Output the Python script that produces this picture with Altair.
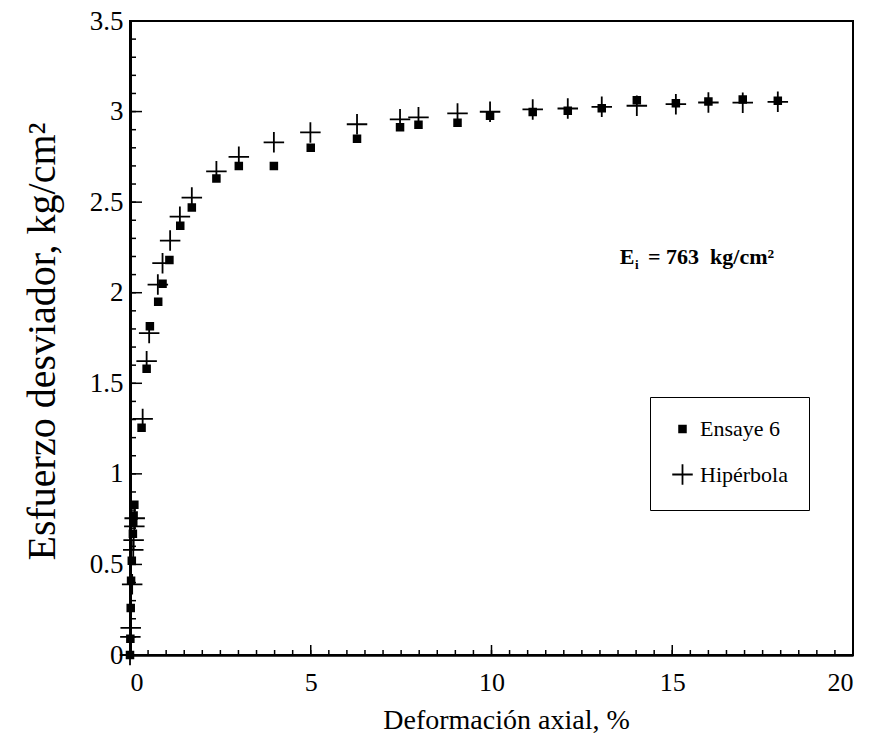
import altair as alt
import pandas as pd

# ---- data ----
ens_x = [0, 0.01, 0.02, 0.03, 0.05, 0.08, 0.09, 0.10, 0.12, 0.32, 0.46, 0.55, 0.78, 0.90,
         1.09, 1.39, 1.71, 2.39, 3.01, 3.98, 5.00, 6.28, 7.47, 7.98, 9.06, 9.96, 11.14,
         12.11, 13.05, 14.02, 15.10, 16.00, 16.95, 17.92]
ens_y = [0, 0.09, 0.26, 0.41, 0.52, 0.67, 0.735, 0.77, 0.83, 1.255, 1.58, 1.815, 1.95, 2.05,
         2.18, 2.37, 2.47, 2.63, 2.70, 2.70, 2.80, 2.85, 2.914, 2.927, 2.938, 2.977, 2.997,
         3.004, 3.019, 3.063, 3.046, 3.056, 3.067, 3.06]

hip_x = [0, 0.01, 0.02, 0.06, 0.09, 0.10, 0.12, 0.13, 0.35, 0.46, 0.53, 0.77, 0.90, 1.11,
         1.38, 1.71, 2.39, 3.01, 3.98, 4.99, 6.28, 7.47, 7.98, 9.06, 9.96, 11.14, 12.11,
         13.05, 14.02, 15.10, 16.00, 16.95, 17.92]
hip_y = [0, 0.10, 0.15, 0.39, 0.58, 0.634, 0.71, 0.755, 1.303, 1.622, 1.777, 2.045, 2.163,
         2.288, 2.42, 2.525, 2.67, 2.75, 2.83, 2.885, 2.93, 2.957, 2.968, 2.99, 2.999, 3.012,
         3.017, 3.026, 3.032, 3.041, 3.05, 3.049, 3.054]

series_names = ["Ensaye 6", "Hipérbola"]

x_ticks_major = [0, 5, 10, 15, 20]
x_ticks_minor = [i * 0.5 for i in range(41)]
y_ticks_major = [0, 0.5, 1, 1.5, 2, 2.5, 3, 3.5]
y_ticks_minor = [round(i * 0.1, 1) for i in range(36)]

x_title = "Deformación axial, %"
y_title = "Esfuerzo desviador, kg/cm²"

ann_e = ["E"]
ann_sub = ["i"]
ann_rest = ["=\u00a0763\u00a0\u00a0kg/cm²"]
ann_x = [13.55, 13.97, 14.33]
ann_y = [2.16, 2.13, 2.16]

# ---- layout ----
W, H = 723, 634
FONT = "Liberation Serif"
CROSS = "M-1,0L1,0M0,-1L0,1"

df = pd.concat([
    pd.DataFrame({"x": ens_x, "y": ens_y, "serie": series_names[0]}),
    pd.DataFrame({"x": hip_x, "y": hip_y, "serie": series_names[1]}),
])

xs = alt.Scale(domain=[0, 20], nice=False, zero=False)
ys = alt.Scale(domain=[0, 3.5], nice=False, zero=False)

xaxis = alt.Axis(
    values=x_ticks_major, format="~g", ticks=False, grid=False,
    domainColor="black", domainWidth=2.5,
    labelFont=FONT, labelFontSize=26, labelColor="black", labelPadding=14,
    title=x_title, titleFont=FONT, titleFontSize=28, titleFontWeight="normal",
    titleColor="black", titleX=376, titleY=73, titleBaseline="alphabetic")
yaxis = alt.Axis(
    values=y_ticks_major, format="~g", ticks=False, grid=False,
    domainColor="black", domainWidth=3,
    labelFont=FONT, labelFontSize=27, labelColor="black", labelPadding=7,
    title=y_title, titleFont=FONT, titleFontSize=40, titleFontWeight="normal",
    titleColor="black", titleX=-88, titleY=320, titleBaseline="middle")

leg = alt.Legend(
    title=None, orient="none", legendX=520, legendY=376,
    strokeColor="black", fillColor="white", padding=21,
    labelFont=FONT, labelFontSize=22, labelColor="black", labelOffset=6,
    rowPadding=20, symbolStrokeWidth=1.8, symbolStrokeColor="black",
)

points = alt.Chart(df).mark_point(filled=True, opacity=1, stroke="black", strokeWidth=1.8).encode(
    x=alt.X("x:Q", scale=xs, axis=xaxis),
    y=alt.Y("y:Q", scale=ys, axis=yaxis),
    shape=alt.Shape("serie:N", scale=alt.Scale(domain=series_names, range=["square", CROSS]), legend=leg),
    size=alt.Size("serie:N", scale=alt.Scale(domain=series_names, range=[45, 420]), legend=leg),
    color=alt.Color("serie:N", scale=alt.Scale(domain=series_names, range=["black", "black"]), legend=leg),
)

def yticks(vals, length):
    return alt.Chart(pd.DataFrame({"v": vals})).mark_rule(color="black", strokeWidth=1.5).encode(
        y=alt.Y("v:Q", scale=ys, axis=yaxis), x=alt.value(0), x2=alt.value(length))

def xticks(vals, length):
    return alt.Chart(pd.DataFrame({"v": vals})).mark_rule(color="black", strokeWidth=1.5).encode(
        x=alt.X("v:Q", scale=xs, axis=xaxis), y=alt.value(H), y2=alt.value(H - length))

def ann(text, x, y, size):
    return alt.Chart(pd.DataFrame({"t": text, "x": [x], "y": [y]})).mark_text(
        align="left", baseline="alphabetic", font=FONT, fontWeight="bold",
        fontSize=size, color="black").encode(
        x=alt.X("x:Q", scale=xs, axis=xaxis), y=alt.Y("y:Q", scale=ys, axis=yaxis), text="t:N")

chart = alt.layer(
    points,
    yticks(y_ticks_minor, 6), yticks(y_ticks_major, 12),
    xticks(x_ticks_minor, 5), xticks(x_ticks_major, 10),
    ann(ann_e, ann_x[0], ann_y[0], 22),
    ann(ann_sub, ann_x[1], ann_y[1], 13),
    ann(ann_rest, ann_x[2], ann_y[2], 22),
).properties(
    width=W, height=H,
    autosize=alt.AutoSizeParams(type="none"),
    padding={"left": 130, "top": 21, "right": 24, "bottom": 88},
    background="white",
).configure_view(stroke="black", strokeWidth=2)

chart.save("out.html", embed_options={"renderer": "svg", "actions": False})
